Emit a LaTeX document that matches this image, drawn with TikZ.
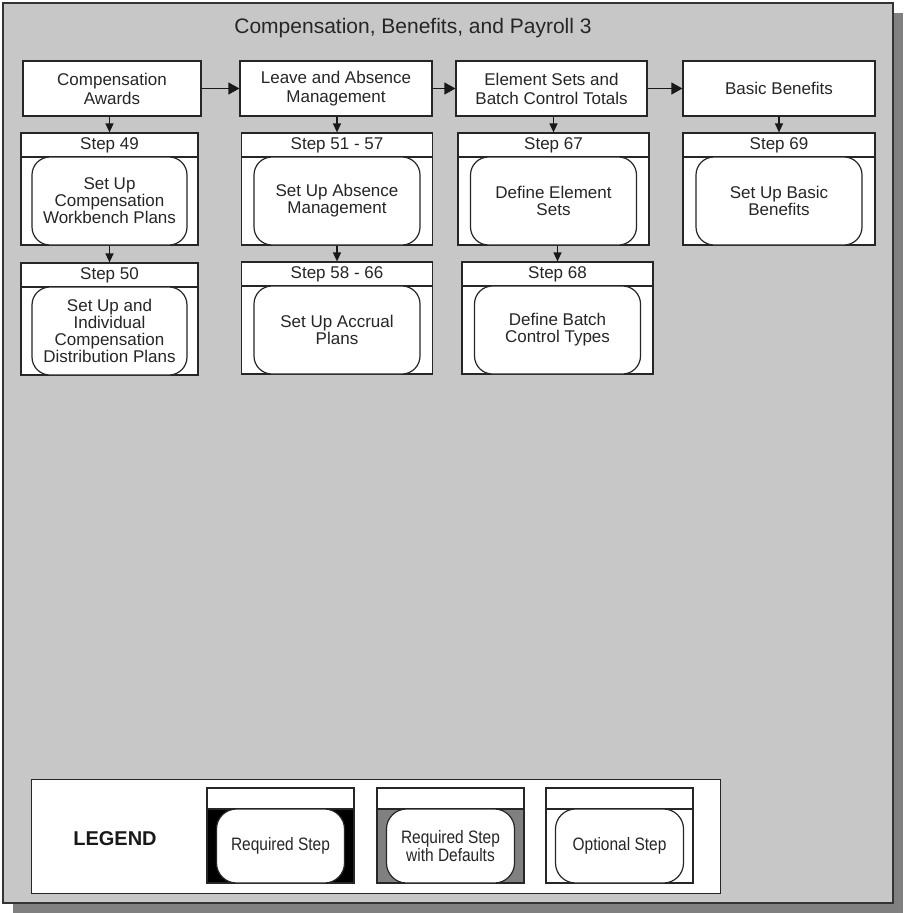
\documentclass[tikz,border=0pt]{standalone}
\usepackage{fontspec}
\setmainfont{Liberation Sans}
\newfontfamily\legfont[FakeStretch=0.86]{Liberation Sans}
\usetikzlibrary{arrows.meta}

\begin{document}
\begin{tikzpicture}[x=1pt, y=-1pt, line width=1.2pt]
	\tikzstyle{hdr}=[draw=black!85, fill=white, minimum height=55pt, inner sep=0pt, align=center, text=black!85, font=\fontsize{17}{19}\selectfont]
	\tikzstyle{stepframe}=[draw=black!85, fill=white, minimum height=112pt, inner sep=0pt]
	\tikzstyle{stepband}=[draw=black!85, fill=white, minimum height=24pt, inner sep=0pt, text=black!85, font=\fontsize{17}{17}\selectfont]
	\tikzstyle{steptask}=[draw=black!85, fill=white, rounded corners=18pt, minimum height=88pt, minimum width=166pt, inner sep=0pt, align=center, text=black!85, font=\fontsize{17}{17}\selectfont]
	\tikzstyle{legframe}=[draw=black!85, minimum width=147pt, minimum height=95pt, inner sep=0pt]
	\tikzstyle{legband}=[draw=black!85, fill=white, minimum width=147pt, minimum height=21pt, inner sep=0pt]
	\tikzstyle{legtask}=[draw=black!85, fill=white, rounded corners=20pt, minimum width=128pt, minimum height=74pt, inner sep=0pt, align=center, text=black!85, font=\legfont\fontsize{18}{16}\selectfont]
	\tikzstyle{flow}=[-{Triangle[length=11pt, width=12pt]}, black!90]
	\tikzstyle{down}=[-{Triangle[length=9pt, width=8pt]}, black!90]
		\useasboundingbox (0,0) rectangle (903,913);
		
		% panel with shadow
		\fill[black!50] (13,13) rectangle (903,913);
		\filldraw[fill=black!22, draw=black!80, line width=1.8pt] (3,3) rectangle (893,903);
		
		\node[text=black!85, font=\fontsize{21}{21}\selectfont] (title) at (413,28) {Compensation, Benefits, and Payroll 3};
		
		\node[hdr, minimum width=178pt] (comp) at (112,88.5) {Compensation\\Awards};
		\node[hdr, minimum width=192pt] (leave) at (336,88.5) {Leave and Absence\\Management};
		\node[hdr, minimum width=191pt] (elem) at (551.5,88.5) {Element Sets and\\Batch Control Totals};
		\node[hdr, minimum width=192pt] (basic) at (779,88.5) {Basic Benefits};
		
		%========================================================================
		% Steps
		\node[stepframe, minimum width=177pt] (s49) at (109.5,189) {};
		\node[stepband, minimum width=177pt, anchor=north] (s49t) at (s49.north) {Step 49};
		\node[steptask, minimum width=155pt, anchor=south] (s49b) at (s49.south) {Set Up\\Compensation\\Workbench Plans};
		
		\node[stepframe, minimum width=177pt] (s50) at (109.5,319) {};
		\node[stepband, minimum width=177pt, anchor=north] (s50t) at (s50.north) {Step 50};
		\node[steptask, minimum width=155pt, anchor=south] (s50b) at (s50.south) {Set Up and\\Individual\\Compensation\\Distribution Plans};
		
		\node[stepframe, minimum width=191pt] (s51) at (337,189) {};
		\node[stepband, minimum width=191pt, anchor=north] (s51t) at (s51.north) {Step 51 - 57};
		\node[steptask, anchor=south] (s51b) at (s51.south) {Set Up Absence\\Management};
		
		\node[stepframe, minimum width=191pt] (s58) at (337,318) {};
		\node[stepband, minimum width=191pt, anchor=north] (s58t) at (s58.north) {Step 58 - 66};
		\node[steptask, anchor=south] (s58b) at (s58.south) {Set Up Accrual\\Plans};
		
		\node[stepframe, minimum width=191pt] (s67) at (553.5,189) {};
		\node[stepband, minimum width=191pt, anchor=north] (s67t) at (s67.north) {Step 67};
		\node[steptask, anchor=south] (s67b) at (s67.south) {Define Element\\Sets};
		
		\node[stepframe, minimum width=191pt] (s68) at (557.5,318) {};
		\node[stepband, minimum width=191pt, anchor=north] (s68t) at (s68.north) {Step 68};
		\node[steptask, anchor=south] (s68b) at (s68.south) {Define Batch\\Control Types};
		
		\node[stepframe, minimum width=192pt] (s69) at (779,189) {};
		\node[stepband, minimum width=192pt, anchor=north] (s69t) at (s69.north) {Step 69};
		\node[steptask, anchor=south] (s69b) at (s69.south) {Set Up Basic\\Benefits};
		
		%========================================================================
		% Arrows
		\draw[flow] (comp) to (leave);
		\draw[flow] (leave) to (elem);
		\draw[flow] (elem) to (basic);
		
		\draw[down] (comp.south -| s49.north) to (s49.north);
		\draw[down] (leave.south -| s51.north) to (s51.north);
		\draw[down] (elem.south -| s67.north) to (s67.north);
		\draw[down] (basic.south -| s69.north) to (s69.north);
		
		\draw[down] (s49) to (s50);
		\draw[down] (s51) to (s58);
		\draw[down] (s67.south -| s68.north) to (s68.north);
		
		%========================================================================
		% Legend
		\node[draw=black!85, fill=white, minimum width=689pt, minimum height=114pt, inner sep=0pt, anchor=north west] (legend) at (31,779) {};
		\node[text=black!90, font=\bfseries\fontsize{20}{20}\selectfont] (legtitle) at (115,839) {LEGEND};
		
		\node[legframe, fill=black] (req) at (280.5,835.5) {};
		\node[legband, anchor=north] (reqt) at (req.north) {};
		\node[legtask, anchor=south] (reqb) at (req.south) {Required Step};
		
		\node[legframe, fill=black!50] (reqd) at (450.5,835.5) {};
		\node[legband, anchor=north] (reqdt) at (reqd.north) {};
		\node[legtask, anchor=south] (reqdb) at (reqd.south) {Required Step\\with Defaults};
		
		\node[legframe, fill=white] (opt) at (619.5,835.5) {};
		\node[legband, anchor=north] (optt) at (opt.north) {};
		\node[legtask, anchor=south] (optb) at (opt.south) {Optional Step};
	\end{tikzpicture}
\end{document}
